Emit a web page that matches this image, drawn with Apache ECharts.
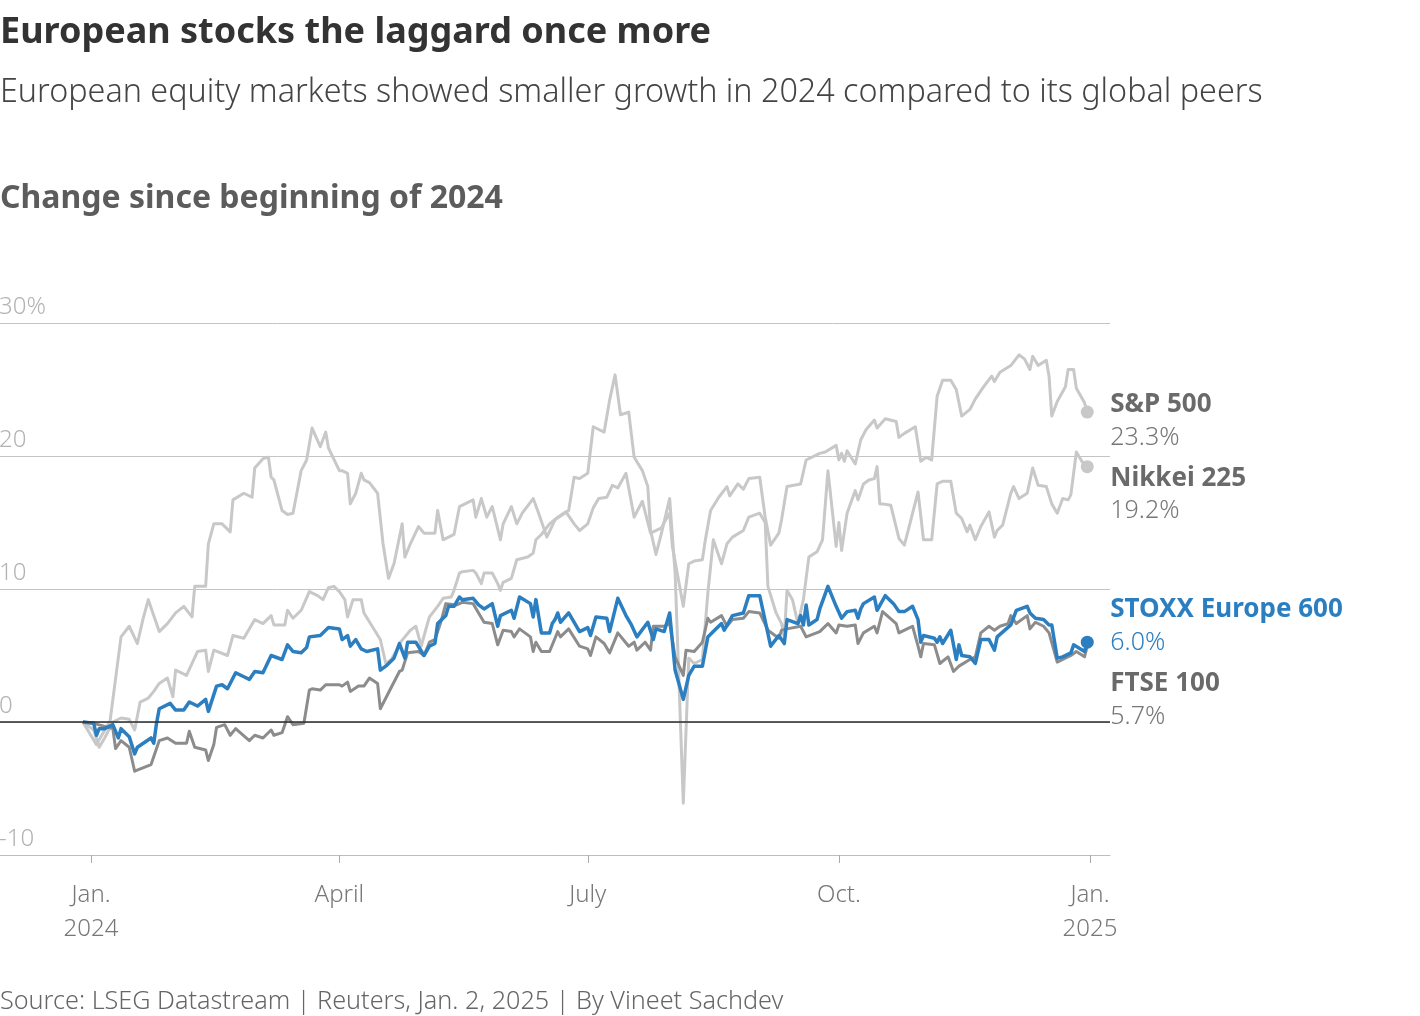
<!DOCTYPE html>
<html>
<head>
<meta charset="utf-8">
<script src="https://cdn.jsdelivr.net/npm/echarts@6/dist/echarts.min.js"></script>
<style>
  html, body { margin: 0; padding: 0; background: #ffffff; }
  #chart { width: 1420px; height: 1016px; }
</style>
</head>
<body>
<div id="chart"></div>
<script>
// ---------------- DATA ----------------
const titleText = 'European stocks the laggard once more';
const subtitleText = 'European equity markets showed smaller growth in 2024 compared to its global peers';
const sectionText = 'Change since beginning of 2024';
const sourceText = 'Source: LSEG Datastream | Reuters, Jan. 2, 2025 | By Vineet Sachdev';

const yTicks = [-10, 0, 10, 20, 30];
const yTickLabels = ['-10', '0', '10', '20', '30%'];
const xTickDates = ['2024-01-01', '2024-04-01', '2024-07-01', '2024-10-01', '2025-01-01'];
const xTickLabels = ['Jan.\n2024', 'April', 'July', 'Oct.', 'Jan.\n2025'];

const seriesNames = ['S&P 500', 'Nikkei 225', 'FTSE 100', 'STOXX Europe 600'];
const finalValues = ['23.3%', '19.2%', '5.7%', '6.0%'];

const sp500 = [
  ['2023-12-29',0],['2024-01-02',-0.6],['2024-01-04',-1.9],['2024-01-06',-1.2],['2024-01-09',0.0],
  ['2024-01-12',0.3],['2024-01-15',0.2],['2024-01-17',-0.6],['2024-01-19',1.5],['2024-01-22',1.8],
  ['2024-01-24',2.3],['2024-01-26',2.9],['2024-01-29',3.3],['2024-01-31',1.9],['2024-02-01',3.9],
  ['2024-02-05',3.5],['2024-02-09',5.3],['2024-02-12',5.4],['2024-02-13',3.8],['2024-02-15',5.4],
  ['2024-02-20',5.0],['2024-02-22',6.5],['2024-02-26',6.3],['2024-03-01',7.7],['2024-03-04',7.4],
  ['2024-03-07',8.0],['2024-03-08',7.3],['2024-03-12',7.3],['2024-03-13',8.4],['2024-03-15',7.8],
  ['2024-03-18',8.4],['2024-03-21',9.8],['2024-03-24',9.5],['2024-03-26',9.2],['2024-03-28',10.1],
  ['2024-03-30',10.2],['2024-04-01',9.8],['2024-04-03',9.2],['2024-04-04',7.9],['2024-04-06',9.2],
  ['2024-04-09',9.2],['2024-04-10',8.2],['2024-04-13',7.2],['2024-04-16',6.2],['2024-04-18',4.4],
  ['2024-04-20',4.7],['2024-04-22',5.4],['2024-04-23',5.9],['2024-04-25',6.4],['2024-04-27',6.9],
  ['2024-04-29',7.2],['2024-05-01',5.7],['2024-05-03',7.2],['2024-05-04',7.9],['2024-05-07',8.7],
  ['2024-05-09',9.3],['2024-05-12',9.4],['2024-05-13',9.9],['2024-05-15',11.2],['2024-05-16',11.3],
  ['2024-05-20',11.4],['2024-05-21',11.2],['2024-05-23',10.4],['2024-05-24',11.2],['2024-05-27',11.2],
  ['2024-05-29',10.4],['2024-05-30',9.9],['2024-05-31',10.5],['2024-06-03',10.8],['2024-06-05',12.2],
  ['2024-06-09',12.4],['2024-06-11',12.7],['2024-06-12',13.7],['2024-06-14',14.1],['2024-06-17',14.9],
  ['2024-06-20',15.4],['2024-06-23',15.8],['2024-06-26',14.9],['2024-06-28',14.4],['2024-07-01',14.9],
  ['2024-07-03',16.1],['2024-07-05',16.8],['2024-07-08',16.9],['2024-07-10',17.8],['2024-07-12',17.6],
  ['2024-07-15',18.7],['2024-07-18',15.4],['2024-07-21',16.6],['2024-07-24',14.2],['2024-07-28',14.6],
  ['2024-07-29',15.0],['2024-07-31',15.7],['2024-08-01',13.2],['2024-08-05',8.7],['2024-08-07',11.9],
  ['2024-08-09',12.1],['2024-08-12',12.2],['2024-08-13',13.6],['2024-08-15',15.9],['2024-08-18',16.9],
  ['2024-08-21',17.7],['2024-08-22',17.0],['2024-08-25',17.9],['2024-08-27',17.5],['2024-08-29',18.3],
  ['2024-09-02',18.4],['2024-09-04',15.4],['2024-09-06',13.3],['2024-09-09',14.2],['2024-09-10',15.2],
  ['2024-09-12',17.7],['2024-09-17',17.9],['2024-09-19',19.7],['2024-09-24',20.2],['2024-09-26',20.3],
  ['2024-09-30',20.8],['2024-10-01',19.7],['2024-10-02',20.2],['2024-10-03',19.6],['2024-10-04',20.4],
  ['2024-10-07',19.4],['2024-10-09',21.2],['2024-10-11',22.0],['2024-10-14',22.7],['2024-10-15',22.1],
  ['2024-10-18',22.8],['2024-10-22',22.6],['2024-10-23',21.4],['2024-10-25',21.7],['2024-10-29',22.2],
  ['2024-10-31',19.6],['2024-11-02',19.9],['2024-11-04',19.7],['2024-11-06',24.5],['2024-11-08',25.7],
  ['2024-11-11',25.7],['2024-11-13',25.0],['2024-11-15',23.0],['2024-11-18',23.5],['2024-11-20',24.3],
  ['2024-11-23',25.2],['2024-11-26',26.0],['2024-11-27',25.6],['2024-11-29',26.3],['2024-12-03',26.8],
  ['2024-12-06',27.6],['2024-12-08',27.3],['2024-12-10',26.5],['2024-12-11',27.5],['2024-12-13',26.8],
  ['2024-12-16',27.2],['2024-12-17',26.0],['2024-12-18',23.0],['2024-12-20',24.1],['2024-12-23',25.2],
  ['2024-12-24',26.5],['2024-12-26',26.5],['2024-12-27',25.1],['2024-12-30',24.0],['2024-12-31',23.3]
];

const nikkei = [
  ['2023-12-29',0],['2024-01-03',-1.7],['2024-01-08',0.1],['2024-01-12',6.4],['2024-01-15',7.2],
  ['2024-01-18',5.9],['2024-01-20',7.7],['2024-01-22',9.2],['2024-01-26',6.8],['2024-01-29',7.4],
  ['2024-02-01',8.2],['2024-02-04',8.7],['2024-02-07',7.9],['2024-02-08',10.2],['2024-02-12',10.2],
  ['2024-02-13',13.4],['2024-02-15',14.9],['2024-02-18',14.9],['2024-02-21',14.3],['2024-02-22',16.7],
  ['2024-02-26',17.2],['2024-02-29',16.9],['2024-03-01',19.1],['2024-03-04',19.8],['2024-03-06',19.9],
  ['2024-03-07',18.4],['2024-03-08',18.2],['2024-03-11',15.9],['2024-03-13',15.6],['2024-03-15',15.7],
  ['2024-03-18',18.9],['2024-03-20',19.7],['2024-03-22',22.1],['2024-03-25',20.7],['2024-03-27',21.8],
  ['2024-03-28',20.6],['2024-04-01',18.9],['2024-04-02',18.9],['2024-04-04',18.7],['2024-04-05',16.4],
  ['2024-04-07',17.2],['2024-04-09',18.7],['2024-04-10',18.2],['2024-04-12',18.0],['2024-04-15',17.2],
  ['2024-04-17',13.4],['2024-04-19',10.8],['2024-04-21',11.9],['2024-04-24',14.9],['2024-04-25',12.4],
  ['2024-04-27',13.4],['2024-04-30',14.7],['2024-05-02',14.2],['2024-05-06',14.2],['2024-05-07',15.9],
  ['2024-05-09',13.7],['2024-05-13',14.1],['2024-05-15',16.2],['2024-05-20',16.7],['2024-05-21',15.4],
  ['2024-05-23',16.8],['2024-05-25',15.4],['2024-05-27',16.2],['2024-05-30',13.7],['2024-05-31',14.9],
  ['2024-06-03',16.2],['2024-06-05',14.9],['2024-06-07',15.7],['2024-06-11',16.8],['2024-06-13',15.7],
  ['2024-06-16',13.9],['2024-06-19',15.2],['2024-06-24',15.9],['2024-06-26',18.4],['2024-06-28',18.3],
  ['2024-07-01',18.7],['2024-07-03',22.2],['2024-07-07',21.8],['2024-07-09',24.2],['2024-07-11',26.1],
  ['2024-07-13',23.1],['2024-07-16',23.3],['2024-07-18',19.9],['2024-07-21',18.9],['2024-07-23',17.7],
  ['2024-07-24',14.4],['2024-07-26',12.6],['2024-07-28',14.2],['2024-07-31',16.8],['2024-08-02',11.2],
  ['2024-08-05',-6.1],['2024-08-07',4.8],['2024-08-09',4.4],['2024-08-12',4.7],['2024-08-14',9.7],
  ['2024-08-16',13.7],['2024-08-19',11.9],['2024-08-21',13.4],['2024-08-23',13.9],['2024-08-27',14.4],
  ['2024-08-29',15.4],['2024-09-02',15.7],['2024-09-04',15.0],['2024-09-05',10.2],['2024-09-08',8.2],
  ['2024-09-10',7.4],['2024-09-11',6.4],['2024-09-12',9.9],['2024-09-14',9.2],['2024-09-16',7.4],
  ['2024-09-18',9.2],['2024-09-20',12.4],['2024-09-23',12.8],['2024-09-25',13.7],['2024-09-27',18.9],
  ['2024-09-30',13.2],['2024-10-01',15.0],['2024-10-02',12.9],['2024-10-04',15.7],['2024-10-07',17.4],
  ['2024-10-08',16.7],['2024-10-10',17.9],['2024-10-12',18.2],['2024-10-14',18.3],['2024-10-15',19.2],
  ['2024-10-16',16.4],['2024-10-17',16.4],['2024-10-20',16.3],['2024-10-23',13.8],['2024-10-25',13.3],
  ['2024-10-27',14.9],['2024-10-30',17.3],['2024-11-01',13.7],['2024-11-04',13.7],['2024-11-06',17.9],
  ['2024-11-08',18.1],['2024-11-11',18.1],['2024-11-13',15.7],['2024-11-15',15.3],['2024-11-17',14.3],
  ['2024-11-18',14.8],['2024-11-20',13.7],['2024-11-22',14.7],['2024-11-25',15.8],['2024-11-27',13.9],
  ['2024-11-28',14.4],['2024-11-30',14.8],['2024-12-03',17.2],['2024-12-04',17.7],['2024-12-06',16.8],
  ['2024-12-09',17.2],['2024-12-11',19.1],['2024-12-13',17.8],['2024-12-16',17.7],['2024-12-18',16.4],
  ['2024-12-20',15.7],['2024-12-22',16.8],['2024-12-24',16.7],['2024-12-25',17.1],['2024-12-27',20.3],
  ['2024-12-29',19.6],['2024-12-31',19.2]
];

const ftse = [
  ['2023-12-29',0],['2024-01-02',-0.1],['2024-01-09',-0.5],['2024-01-10',-2.0],['2024-01-12',-1.4],
  ['2024-01-15',-1.9],['2024-01-17',-3.7],['2024-01-23',-3.2],['2024-01-26',-1.4],['2024-01-29',-1.2],
  ['2024-02-01',-1.6],['2024-02-05',-1.6],['2024-02-06',-0.7],['2024-02-08',-1.9],['2024-02-12',-2.1],
  ['2024-02-13',-2.9],['2024-02-15',-1.7],['2024-02-16',-0.4],['2024-02-19',-0.2],['2024-02-21',-1.0],
  ['2024-02-23',-0.5],['2024-02-28',-1.4],['2024-03-01',-1.0],['2024-03-04',-1.2],['2024-03-07',-0.6],
  ['2024-03-08',-1.0],['2024-03-11',-0.8],['2024-03-13',0.4],['2024-03-15',-0.2],['2024-03-19',-0.1],
  ['2024-03-21',2.4],['2024-03-22',2.5],['2024-03-25',2.4],['2024-03-27',2.8],['2024-04-01',2.8],
  ['2024-04-02',2.7],['2024-04-04',3.0],['2024-04-05',2.3],['2024-04-08',2.7],['2024-04-10',2.7],
  ['2024-04-12',3.3],['2024-04-15',2.9],['2024-04-16',1.0],['2024-04-19',2.2],['2024-04-23',3.8],
  ['2024-04-24',3.9],['2024-04-26',5.2],['2024-04-30',5.3],['2024-05-02',5.0],['2024-05-04',6.0],
  ['2024-05-06',6.2],['2024-05-08',7.4],['2024-05-10',8.9],['2024-05-14',8.8],['2024-05-16',9.0],
  ['2024-05-20',8.9],['2024-05-22',8.2],['2024-05-24',7.5],['2024-05-27',7.4],['2024-05-29',5.8],
  ['2024-05-31',6.9],['2024-06-03',6.8],['2024-06-04',6.4],['2024-06-06',7.0],['2024-06-08',6.7],
  ['2024-06-10',6.4],['2024-06-11',5.3],['2024-06-12',6.0],['2024-06-14',5.3],['2024-06-17',5.3],
  ['2024-06-20',6.8],['2024-06-21',6.4],['2024-06-24',7.0],['2024-06-28',5.7],['2024-07-01',5.5],
  ['2024-07-02',5.0],['2024-07-04',6.4],['2024-07-07',5.9],['2024-07-09',5.2],['2024-07-12',6.7],
  ['2024-07-16',5.7],['2024-07-18',6.0],['2024-07-19',5.4],['2024-07-22',6.0],['2024-07-24',5.4],
  ['2024-07-25',7.2],['2024-07-29',7.2],['2024-07-31',7.4],['2024-08-02',4.9],['2024-08-05',3.5],
  ['2024-08-06',5.4],['2024-08-09',5.3],['2024-08-12',6.0],['2024-08-14',7.8],['2024-08-15',7.5],
  ['2024-08-19',8.0],['2024-08-21',7.2],['2024-08-23',7.7],['2024-08-27',7.8],['2024-08-29',8.3],
  ['2024-09-02',8.2],['2024-09-05',6.9],['2024-09-09',6.3],['2024-09-10',6.9],['2024-09-12',7.0],
  ['2024-09-17',7.2],['2024-09-19',6.4],['2024-09-24',6.8],['2024-09-27',7.4],['2024-09-30',6.7],
  ['2024-10-01',7.3],['2024-10-04',7.2],['2024-10-07',7.3],['2024-10-08',5.9],['2024-10-10',6.7],
  ['2024-10-14',7.2],['2024-10-15',6.7],['2024-10-17',8.3],['2024-10-22',7.4],['2024-10-23',6.7],
  ['2024-10-26',7.0],['2024-10-28',7.2],['2024-10-30',5.7],['2024-10-31',4.9],['2024-11-01',5.9],
  ['2024-11-05',5.8],['2024-11-07',4.4],['2024-11-10',4.9],['2024-11-12',3.8],['2024-11-14',4.2],
  ['2024-11-18',4.7],['2024-11-20',4.9],['2024-11-22',6.7],['2024-11-25',7.2],['2024-11-27',6.9],
  ['2024-11-29',7.2],['2024-12-02',7.4],['2024-12-03',8.0],['2024-12-05',7.4],['2024-12-09',8.0],
  ['2024-12-10',7.0],['2024-12-12',7.5],['2024-12-15',7.2],['2024-12-17',6.7],['2024-12-20',4.5],
  ['2024-12-22',4.7],['2024-12-25',5.0],['2024-12-27',5.3],['2024-12-30',4.9],['2024-12-31',5.7]
];

const stoxx = [
  ['2023-12-29',0],['2024-01-02',-0.1],['2024-01-03',-1.0],['2024-01-04',-0.5],['2024-01-06',-0.5],
  ['2024-01-09',-0.2],['2024-01-11',-1.2],['2024-01-12',-0.5],['2024-01-15',-1.1],['2024-01-17',-2.4],
  ['2024-01-18',-1.9],['2024-01-23',-1.2],['2024-01-24',-1.6],['2024-01-25',-0.1],['2024-01-26',1.0],
  ['2024-01-30',1.4],['2024-02-01',0.9],['2024-02-04',0.9],['2024-02-06',1.5],['2024-02-09',1.2],
  ['2024-02-12',1.7],['2024-02-13',0.8],['2024-02-16',2.7],['2024-02-18',2.8],['2024-02-20',2.5],
  ['2024-02-23',3.7],['2024-02-26',3.4],['2024-02-28',3.2],['2024-03-01',3.8],['2024-03-04',3.7],
  ['2024-03-07',5.0],['2024-03-11',4.7],['2024-03-13',5.8],['2024-03-15',5.3],['2024-03-18',5.2],
  ['2024-03-20',5.6],['2024-03-21',6.4],['2024-03-25',6.5],['2024-03-28',7.1],['2024-04-01',7.0],
  ['2024-04-02',6.2],['2024-04-04',6.5],['2024-04-05',5.7],['2024-04-07',6.2],['2024-04-09',5.5],
  ['2024-04-11',5.3],['2024-04-15',5.5],['2024-04-16',3.9],['2024-04-18',4.2],['2024-04-21',4.8],
  ['2024-04-23',5.9],['2024-04-25',4.8],['2024-04-26',6.0],['2024-04-29',6.0],['2024-05-02',5.0],
  ['2024-05-04',5.7],['2024-05-06',5.9],['2024-05-07',7.4],['2024-05-10',8.0],['2024-05-11',8.7],
  ['2024-05-13',8.7],['2024-05-15',9.4],['2024-05-16',9.2],['2024-05-20',9.3],['2024-05-22',8.8],
  ['2024-05-24',8.5],['2024-05-27',8.9],['2024-05-29',7.2],['2024-05-30',8.0],['2024-06-03',8.4],
  ['2024-06-04',7.8],['2024-06-06',9.4],['2024-06-10',8.9],['2024-06-11',7.9],['2024-06-12',9.2],
  ['2024-06-14',6.7],['2024-06-17',6.7],['2024-06-18',7.4],['2024-06-19',7.7],['2024-06-20',8.2],
  ['2024-06-21',7.5],['2024-06-24',8.2],['2024-06-28',6.8],['2024-07-01',7.1],['2024-07-02',6.5],
  ['2024-07-04',7.9],['2024-07-08',7.8],['2024-07-09',6.8],['2024-07-12',9.3],['2024-07-15',8.0],
  ['2024-07-17',7.3],['2024-07-19',6.4],['2024-07-23',7.5],['2024-07-25',6.2],['2024-07-26',7.0],
  ['2024-07-29',6.8],['2024-07-31',8.2],['2024-08-02',3.9],['2024-08-05',1.7],['2024-08-07',3.5],
  ['2024-08-09',4.2],['2024-08-12',4.2],['2024-08-14',6.4],['2024-08-16',6.8],['2024-08-19',7.4],
  ['2024-08-20',6.9],['2024-08-23',8.0],['2024-08-27',8.2],['2024-08-29',9.5],['2024-09-02',9.5],
  ['2024-09-06',5.7],['2024-09-09',6.5],['2024-09-11',5.9],['2024-09-12',7.7],['2024-09-16',7.4],
  ['2024-09-17',8.0],['2024-09-18',7.3],['2024-09-19',8.8],['2024-09-20',7.3],['2024-09-23',7.7],
  ['2024-09-24',8.5],['2024-09-27',10.2],['2024-09-30',8.7],['2024-10-02',7.8],['2024-10-04',8.3],
  ['2024-10-07',8.4],['2024-10-08',7.8],['2024-10-09',8.5],['2024-10-10',8.9],['2024-10-14',9.4],
  ['2024-10-15',8.4],['2024-10-18',9.5],['2024-10-21',8.9],['2024-10-23',8.3],['2024-10-25',8.3],
  ['2024-10-28',8.7],['2024-10-30',7.7],['2024-10-31',6.0],['2024-11-01',6.5],['2024-11-05',6.3],
  ['2024-11-06',6.0],['2024-11-07',6.4],['2024-11-08',5.9],['2024-11-11',6.9],['2024-11-13',4.7],
  ['2024-11-14',5.8],['2024-11-15',5.0],['2024-11-18',4.9],['2024-11-20',4.4],['2024-11-22',6.2],
  ['2024-11-25',6.2],['2024-11-27',5.4],['2024-11-28',6.4],['2024-12-03',7.3],['2024-12-05',8.4],
  ['2024-12-09',8.7],['2024-12-10',8.2],['2024-12-12',7.8],['2024-12-15',7.7],['2024-12-17',7.3],
  ['2024-12-18',7.3],['2024-12-20',4.8],['2024-12-22',4.9],['2024-12-25',5.2],['2024-12-26',5.8],
  ['2024-12-30',5.3],['2024-12-31',6.0]
];

// ---------------- helpers ----------------
function ts(s) {
  const p = s.split('-').map(Number);
  return new Date(p[0], p[1] - 1, p[2]).getTime();
}
const DAY = 86400000;
const toPoints = arr => arr.map(d => [ts(d[0]), d[1]]);

const FONT = 'Noto Sans';
const GREY_LINE = '#c8c8c8';
const BLUE = '#2b7fc1';
const FTSE_GREY = '#8c8c8c';

const xMin = ts('2024-01-01') - 33.34 * DAY;
const xMax = ts('2025-01-01') + 7.33 * DAY;
const xTickTs = xTickDates.map(ts);

function labelFor(v) {
  let best = -1, bd = Infinity;
  xTickTs.forEach((t, i) => { const d = Math.abs(t - v); if (d < bd) { bd = d; best = i; } });
  return bd < 2 * DAY ? xTickLabels[best] : '';
}

function lineSeries(name, arr, color, width, finalText, labelDy, nameColor, valColor, showDot) {
  const pts = toPoints(arr);
  const last = pts[pts.length - 1];
  const s = {
    name: name,
    type: 'line',
    data: pts,
    showSymbol: false,
    symbol: 'none',
    smooth: false,
    lineStyle: { color: color, width: width, join: 'round' },
    itemStyle: { color: color },
    emphasis: { disabled: true },
    silent: true,
    endLabel: {
      show: true,
      distance: 0,
      offset: [23, labelDy],
      align: 'left',
      formatter: '{n|' + name + '}\n{v|' + finalText + '}',
      rich: {
        n: { fontFamily: FONT, fontSize: 26, fontWeight: 'bold', color: nameColor, lineHeight: 33 },
        v: { fontFamily: FONT, fontSize: 25, fontWeight: 300, color: valColor, lineHeight: 33 }
      }
    }
  };
  if (showDot) {
    s.markPoint = {
      silent: true,
      symbol: 'circle',
      symbolSize: 13,
      itemStyle: { color: color },
      label: { show: false },
      data: [{ coord: last }]
    };
  }
  return s;
}

const chart = echarts.init(document.getElementById('chart'), null, { renderer: 'canvas' });

const ftseSeries = lineSeries(seriesNames[2], ftse, FTSE_GREY, 3, finalValues[2], 54, '#6a6a6a', '#777777', false);
ftseSeries.markLine = {
  silent: true,
  symbol: 'none',
  label: { show: false },
  lineStyle: { color: '#2b2b2b', width: 1.5, type: 'solid' },
  data: [{ yAxis: 0 }]
};

const option = {
  backgroundColor: '#ffffff',
  animation: false,
  textStyle: { fontFamily: FONT },
  title: [
    { text: titleText, left: 0, top: 15, padding: 0,
      textStyle: { fontFamily: FONT, fontSize: 36, fontWeight: 'bold', color: '#333333' } },
    { text: subtitleText, left: 0, top: 77, padding: 0,
      textStyle: { fontFamily: FONT, fontSize: 32.3, fontWeight: 300, color: '#444444' } },
    { text: sectionText, left: 0, top: 183, padding: 0,
      textStyle: { fontFamily: FONT, fontSize: 32, fontWeight: 'bold', color: '#5c5c5c' } },
    { text: sourceText, left: 0, top: 989, padding: 0,
      textStyle: { fontFamily: FONT, fontSize: 25.2, fontWeight: 300, color: '#666666' } }
  ],
  grid: { left: 0, right: 310, top: 323, bottom: 161, containLabel: false, outerBoundsMode: 'none' },
  xAxis: {
    type: 'value',
    min: xMin,
    max: xMax,
    axisLine: { show: true, onZero: false, lineStyle: { color: '#bdbdbd', width: 1 } },
    axisTick: { show: true, length: 8, lineStyle: { color: '#aaaaaa', width: 1 }, customValues: xTickTs },
    splitLine: { show: false },
    axisLabel: {
      customValues: xTickTs,
      margin: 23,
      color: '#777777',
      fontFamily: FONT,
      fontWeight: 300,
      fontSize: 24,
      lineHeight: 34,
      formatter: function (v) { return labelFor(v); }
    }
  },
  yAxis: {
    type: 'value',
    min: -10,
    max: 30,
    interval: 10,
    axisLine: { show: false },
    axisTick: { show: false },
    splitLine: { show: true, lineStyle: { color: '#c4c4c4', width: 1 } },
    axisLabel: {
      inside: true,
      margin: -1,
      align: 'left',
      verticalAlign: 'bottom',
      padding: [0, 0, 4, 0],
      color: '#b3b3b3',
      fontFamily: FONT,
      fontWeight: 300,
      fontSize: 24,
      formatter: function (v) {
        const i = yTicks.indexOf(v);
        return i >= 0 ? yTickLabels[i] : '';
      }
    }
  },
  series: [
    lineSeries(seriesNames[0], sp500, GREY_LINE, 3, finalValues[0], 9, '#6a6a6a', '#777777', true),
    lineSeries(seriesNames[1], nikkei, GREY_LINE, 3, finalValues[1], 28, '#6a6a6a', '#777777', true),
    ftseSeries,
    lineSeries(seriesNames[3], stoxx, BLUE, 3.5, finalValues[3], -16, BLUE, BLUE, true)
  ]
};

chart.setOption(option);
</script>
</body>
</html>
